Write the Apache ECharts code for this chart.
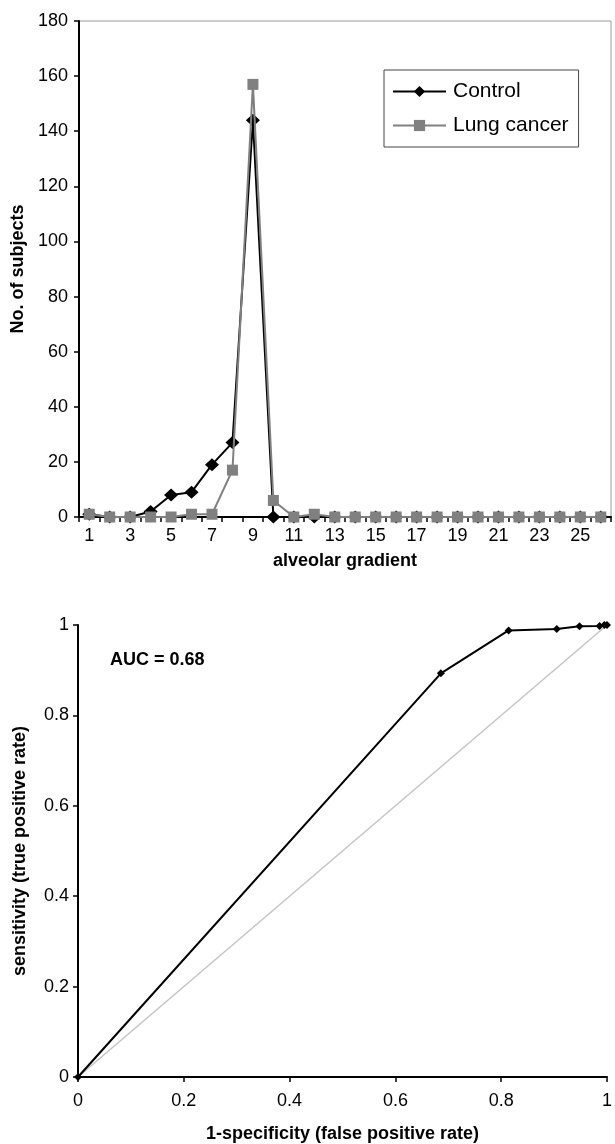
<!DOCTYPE html>
<html>
<head>
<meta charset="utf-8">
<script src="https://cdn.jsdelivr.net/npm/echarts@6/dist/echarts.min.js"></script>
<style>
  html, body { margin: 0; padding: 0; background: #fff; }
  #chart { width: 615px; height: 1144px; }
</style>
</head>
<body>
<div id="chart"></div>
<script>
// Distribution of alveolar gradient (subjects per gradient value)
const gradients = ['1','2','3','4','5','6','7','8','9','10','11','12','13',
                   '14','15','16','17','18','19','20','21','22','23','24','25','26'];
const controlCounts    = [1, 0, 0, 2, 8, 9, 19, 27, 144, 0, 0, 0, 0, 0, 0, 0, 0, 0, 0, 0, 0, 0, 0, 0, 0, 0];
const lungCancerCounts = [1, 0, 0, 0, 0, 1, 1, 17, 157, 6, 0, 1, 0, 0, 0, 0, 0, 0, 0, 0, 0, 0, 0, 0, 0, 0];
const countAxisMax = 180;
const countAxisStep = 20;

// ROC curve (false positive rate vs. true positive rate)
const rocFpr = [0, 0.686, 0.814, 0.905, 0.948, 0.986, 0.995, 1];
const rocTpr = [0, 0.893, 0.988, 0.991, 0.997, 0.998, 1, 1];
const chanceFpr = [0, 1];
const chanceTpr = [0, 1];
const rateAxisStep = 0.2;
const aucLabel = 'AUC = 0.68';

const FONT = '"Liberation Sans", Arial, Helvetica, sans-serif';
const GREY = '#808080';

const tickLabel = { color: '#000', fontSize: 18, fontFamily: FONT };
const axisTitle = { color: '#000', fontSize: 18, fontWeight: 'bold', fontFamily: FONT };
const blackLine = { lineStyle: { color: '#000', width: 2 } };
const blackTick = { show: true, inside: false, length: 5, lineStyle: { color: '#000', width: 1.5 } };

const chart = echarts.init(document.getElementById('chart'), null, { renderer: 'canvas' });

chart.setOption({
  backgroundColor: '#fff',
  animation: false,
  textStyle: { fontFamily: FONT },
  grid: [
    { left: 79, top: 21, width: 532, height: 496, show: true,
      borderColor: '#9a9a9a', borderWidth: 1, backgroundColor: 'transparent' },
    { left: 78, top: 625, width: 535, height: 453 }
  ],
  legend: {
    data: ['Control', 'Lung cancer'],
    orient: 'vertical',
    left: 384, top: 70,
    itemWidth: 53, itemHeight: 14, itemGap: 13,
    padding: [11, 10, 11, 8],
    borderColor: '#444', borderWidth: 1,
    textStyle: { color: '#000', fontSize: 21, fontFamily: FONT, padding: [0, 0, 0, 2] }
  },
  xAxis: [
    {
      type: 'category', gridIndex: 0, data: gradients, boundaryGap: true,
      name: 'alveolar gradient', nameLocation: 'middle', nameGap: 35, nameTextStyle: axisTitle,
      axisLine: { show: true, ...blackLine },
      axisTick: { ...blackTick, interval: 0, alignWithLabel: false },
      axisLabel: { ...tickLabel, interval: 1, margin: 10 },
      splitLine: { show: false }
    },
    {
      type: 'value', gridIndex: 1, min: 0, max: 1, interval: rateAxisStep,
      name: '1-specificity (false positive rate)', nameLocation: 'middle', nameGap: 48, nameTextStyle: axisTitle,
      axisLine: { show: true, onZero: false, ...blackLine },
      axisTick: blackTick,
      axisLabel: { ...tickLabel, margin: 15 },
      splitLine: { show: false }
    }
  ],
  yAxis: [
    {
      type: 'value', gridIndex: 0, min: 0, max: countAxisMax, interval: countAxisStep,
      name: 'No. of subjects', nameLocation: 'middle', nameGap: 52, nameTextStyle: axisTitle,
      axisLine: { show: true, ...blackLine },
      axisTick: blackTick,
      axisLabel: { ...tickLabel, margin: 11 },
      splitLine: { show: false }
    },
    {
      type: 'value', gridIndex: 1, min: 0, max: 1, interval: rateAxisStep,
      name: 'sensitivity (true positive rate)', nameLocation: 'middle', nameGap: 49, nameTextStyle: axisTitle,
      axisLine: { show: true, onZero: false, ...blackLine },
      axisTick: blackTick,
      axisLabel: { ...tickLabel, margin: 9 },
      splitLine: { show: false }
    }
  ],
  series: [
    {
      name: 'Control', type: 'line', xAxisIndex: 0, yAxisIndex: 0,
      data: controlCounts,
      symbol: 'diamond', symbolSize: [14, 13], showAllSymbol: true,
      lineStyle: { color: '#000', width: 2 },
      itemStyle: { color: '#000' },
      z: 3
    },
    {
      name: 'Lung cancer', type: 'line', xAxisIndex: 0, yAxisIndex: 0,
      data: lungCancerCounts,
      symbol: 'rect', symbolSize: 11, showAllSymbol: true,
      lineStyle: { color: GREY, width: 2 },
      itemStyle: { color: GREY },
      z: 4
    },
    {
      name: 'Chance', type: 'line', xAxisIndex: 1, yAxisIndex: 1,
      data: chanceFpr.map((x, i) => [x, chanceTpr[i]]),
      symbol: 'none',
      lineStyle: { color: '#c4c4c4', width: 1.5 },
      z: 2
    },
    {
      name: 'ROC', type: 'line', xAxisIndex: 1, yAxisIndex: 1,
      data: rocFpr.map((x, i) => [x, rocTpr[i]]),
      symbol: 'diamond', symbolSize: 8, showAllSymbol: true,
      lineStyle: { color: '#000', width: 2 },
      itemStyle: { color: '#000' },
      z: 3
    }
  ],
  graphic: [
    {
      type: 'text', left: 110, top: 651,
      style: { text: aucLabel, font: 'bold 18px ' + FONT, fill: '#000' }
    }
  ]
});
</script>
</body>
</html>
